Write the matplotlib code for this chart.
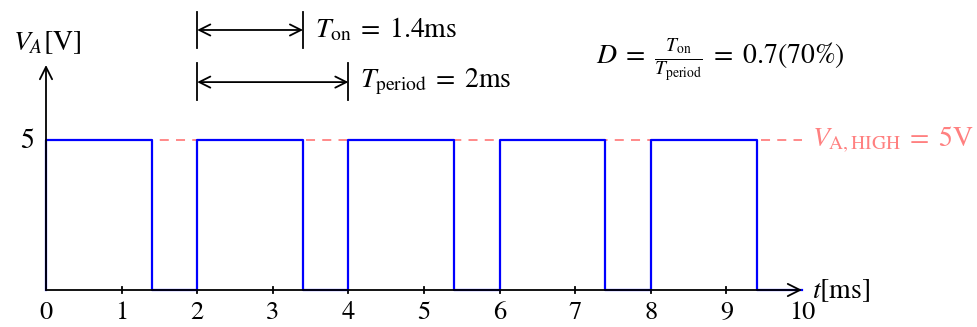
import matplotlib
matplotlib.use("Agg")
import matplotlib.pyplot as plt
import numpy as np

plt.rcParams['font.family'] = 'STIXGeneral'
plt.rcParams['mathtext.fontset'] = 'stix'

# PWM signal: 2 ms period, 1.4 ms on-time, 5 V high level
rise_times = [0, 2, 4, 6, 8]
fall_times = [1.4, 3.4, 5.4, 7.4, 9.4]
v_high = 5
t_end = 10
x_ticks = [0, 1, 2, 3, 4, 5, 6, 7, 8, 9, 10]
y_ticks = [5]
t_on = 1.4
t_period = 2

# build the square wave as step points
t_pts, v_pts = [], []
for r, f in zip(rise_times, fall_times):
    t_pts += [r, r, f, f]
    v_pts += [0, v_high, v_high, 0]
t_pts.append(t_end)
v_pts.append(0)

fs = 20
fig = plt.figure(figsize=(9.77, 3.27), dpi=100)
ax = fig.add_axes([0, 0, 1, 1])
ax.set_xlim(-46 / 75.6, (977 - 46) / 75.6)
ax.set_ylim(-37 / 30, 290 / 30)
ax.axis('off')

# axes with arrow heads
arrow_kw = dict(arrowstyle='->', lw=1.3, color='black', mutation_scale=22,
                shrinkA=0, shrinkB=0)
ax.annotate('', xy=(t_end, 0), xytext=(0, 0), arrowprops=arrow_kw)
ax.annotate('', xy=(0, 7.5), xytext=(0, 0), arrowprops=arrow_kw)

for x in x_ticks[1:-1]:
    ax.plot([x, x], [-0.1, 0.1], color='black', lw=1.3)
for x in x_ticks:
    ax.text(x, -0.98, str(x), ha='center', va='baseline', fontsize=19)
for y in y_ticks:
    ax.text(-0.16, y - 0.28, str(y), ha='right', va='baseline', fontsize=fs)

ax.text(-0.44, 8.0, r'$V_A$[V]', ha='left', va='baseline', fontsize=fs)
ax.text(10.13, -0.02, r'$t$[ms]', ha='left', va='center', fontsize=fs)

# high level reference
ax.plot([0, t_end], [v_high, v_high], color='#ff8080', lw=1.3, dashes=(5, 4))
ax.text(10.13, v_high, r'$V_{\mathrm{A,HIGH}}\;=\;5$V', color='#ff8080',
        ha='left', va='center', fontsize=fs)

# waveform
ax.plot(t_pts, v_pts, color='#0000ff', lw=1.6)

# timing annotations
x0 = rise_times[1]
dim_kw = dict(arrowstyle='<->', lw=1.3, color='black', mutation_scale=20,
              shrinkA=0, shrinkB=0)
ax.annotate('', xy=(x0 + t_on, 8.667), xytext=(x0, 8.667), arrowprops=dim_kw)
ax.plot([x0, x0], [8.07, 9.27], color='black', lw=1.3)
ax.plot([x0 + t_on, x0 + t_on], [8.07, 9.27], color='black', lw=1.3)
ax.text(x0 + t_on + 0.16, 8.667, r'$T_{\mathrm{on}}\;=\;1.4$ms',
        ha='left', va='center', fontsize=fs)

ax.annotate('', xy=(x0 + t_period, 6.93), xytext=(x0, 6.93), arrowprops=dim_kw)
ax.plot([x0, x0], [6.33, 7.57], color='black', lw=1.3)
ax.plot([x0 + t_period, x0 + t_period], [6.33, 7.57], color='black', lw=1.3)
ax.text(x0 + t_period + 0.16, 6.93, r'$T_{\mathrm{period}}\;=\;2$ms',
        ha='left', va='center', fontsize=fs)

ax.text(7.27, 7.67, r'$D\;=\;\frac{T_{\mathrm{on}}}{T_{\mathrm{period}}}\;=\;0.7(70\%)$',
        ha='left', va='center', fontsize=fs)

fig.savefig('out.png', dpi=100)
